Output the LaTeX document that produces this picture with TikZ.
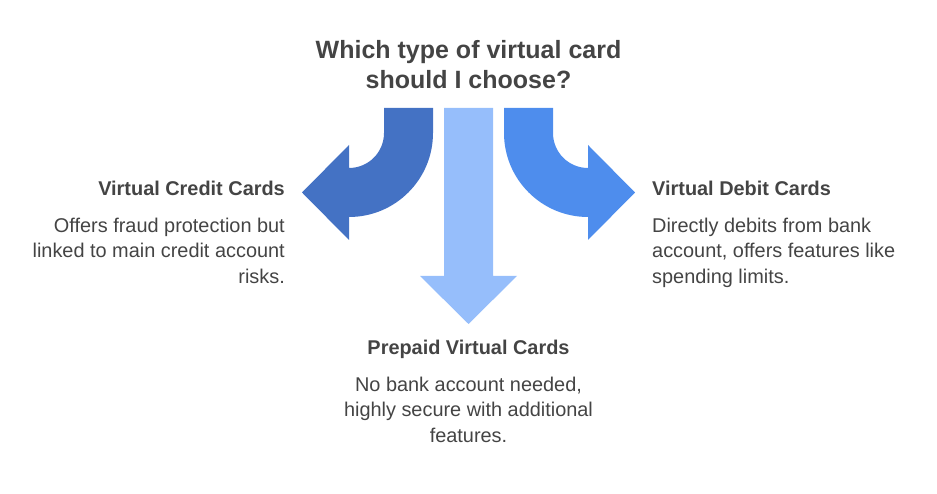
\documentclass[tikz,border=0pt]{standalone}
\usepackage{fontspec}
\setmainfont{Liberation Sans}
\definecolor{creditblue}{RGB}{68,114,196}
\definecolor{debitblue}{RGB}{78,141,237}
\definecolor{prepaidblue}{RGB}{150,190,251}
\definecolor{txtgray}{RGB}{68,68,68}
\begin{document}
\begin{tikzpicture}[x=1pt, y=1pt,
                  question/.style={font=\fontsize{25}{30}\selectfont\bfseries, text=txtgray,
                                   align=center, anchor=north, inner sep=0},
                  heading/.style={font=\fontsize{19.9}{24}\selectfont\bfseries, text=txtgray, inner sep=0},
                  body/.style={font=\fontsize{19.9}{25.5}\selectfont, text=txtgray, inner sep=0}]
\useasboundingbox (0,0) rectangle (937,494);
% bent arrows (left one, then its mirror)
\foreach \sh/\sc/\col in {0/1/creditblue, 937/-1/debitblue}
  \fill[\col, xshift=\sh pt, xscale=\sc] (433,386) -- (384,386) -- (384,361)
     arc[start angle=0, end angle=-90, radius=35] -- (349,349) -- (302,301.5)
     -- (349,254) -- (349,277) arc[start angle=-90, end angle=0, radius=84] -- cycle;
% straight arrow
\fill[prepaidblue] (444,386) -- (493,386) -- (493,218) -- (517,218) -- (468.5,170)
   -- (420,218) -- (444,218) -- cycle;
\node[question] (question) at (468.5,453.5) {Which type of virtual card\\should I choose?};
\node[heading, anchor=base east] (credit) at (285,298) {Virtual Credit Cards};
\node[body, anchor=north east, align=right] (creditText) at (285,276.5)
  {Offers fraud protection but\\linked to main credit account\\risks.};
\node[heading, anchor=base west] (debit) at (652,298) {Virtual Debit Cards};
\node[body, anchor=north west, align=left] (debitText) at (652,276.5)
  {Directly debits from bank\\account, offers features like\\spending limits.};
\node[heading, anchor=base] (prepaid) at (468.5,139) {Prepaid Virtual Cards};
\node[body, anchor=north, align=center] (prepaidText) at (468.5,117.5)
  {No bank account needed,\\highly secure with additional\\features.};
\end{tikzpicture}
\end{document}
